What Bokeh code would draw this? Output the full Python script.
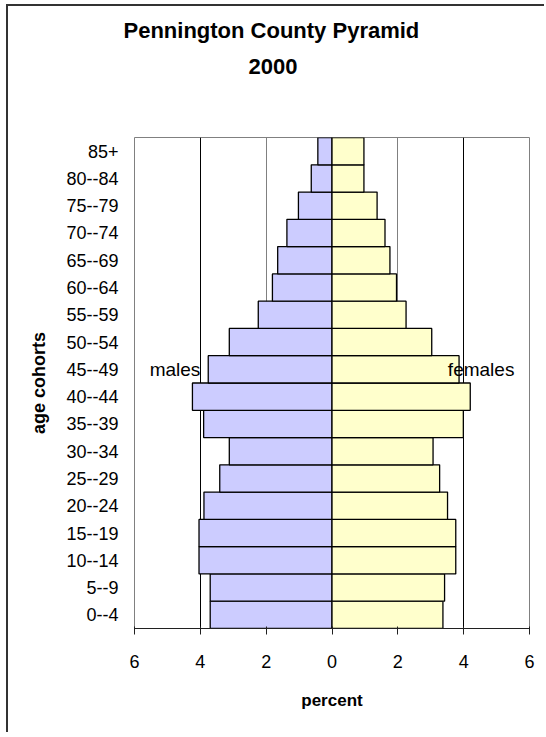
from bokeh.plotting import figure
from bokeh.models import ColumnDataSource, FixedTicker, Grid, Title, FactorRange, Range1d
from bokeh.core.properties import value
from bokeh.embed import file_html
from bokeh.resources import INLINE

ages = ["0--4", "5--9", "10--14", "15--19", "20--24", "25--29", "30--34", "35--39",
        "40--44", "45--49", "50--54", "55--59", "60--64", "65--69", "70--74",
        "75--79", "80--84", "85+"]
males = [3.70, 3.70, 4.04, 4.04, 3.89, 3.41, 3.12, 3.90, 4.24, 3.76, 3.12, 2.24,
         1.81, 1.65, 1.37, 1.02, 0.63, 0.43]
females = [3.37, 3.42, 3.76, 3.76, 3.51, 3.27, 3.07, 3.99, 4.20, 3.86, 3.03, 2.25,
           1.96, 1.76, 1.61, 1.37, 0.97, 0.97]
x_ticks = [-6, -4, -2, 0, 2, 4, 6]
x_tick_labels = ["6", "4", "2", "0", "2", "4", "6"]
title_lines = ["Pennington County Pyramid", "2000"]

FONT = "Liberation Sans"

src = ColumnDataSource(dict(age=ages, mneg=[-v for v in males], f=females,
                            zero=[0] * len(ages)))

p = figure(y_range=FactorRange(*ages), x_range=Range1d(-6, 6),
           frame_width=395, frame_height=491,
           min_border_left=126, min_border_right=15, min_border_top=131, min_border_bottom=104,
           output_backend="svg", toolbar_location=None)
p.styles = {"border-left": "2px solid #333333", "border-top": "2px solid #333333",
            "margin-left": "6px", "margin-top": "4px"}
p.title.visible = False
p.background_fill_color = "white"
p.border_fill_color = "white"
p.outline_line_color = "#808080"
p.outline_line_width = 1

# grids
p.ygrid.visible = False
p.xgrid.ticker = FixedTicker(ticks=[-4, 4])
p.xgrid.grid_line_color = "black"
g2 = Grid(dimension=0, ticker=FixedTicker(ticks=[-2, 2]), grid_line_color="#808080")
p.add_layout(g2)

p.hbar(y="age", left="mneg", right="zero", height=1.0, source=src,
       fill_color="#CCCCFF", line_color="black", line_width=1.3)
p.hbar(y="age", left="zero", right="f", height=1.0, source=src,
       fill_color="#FFFFCC", line_color="black", line_width=1.3)

# x axis
xa = p.xaxis[0]
xa.ticker = FixedTicker(ticks=x_ticks)
xa.major_label_overrides = {t: l for t, l in zip(x_ticks, x_tick_labels)}
xa.minor_tick_line_color = None
xa.major_tick_in = 2
xa.major_tick_out = 6
xa.axis_line_color = "#202020"
xa.major_tick_line_color = "#202020"
xa.major_label_text_font = FONT
xa.major_label_text_font_size = "18px"
xa.major_label_text_color = "black"
xa.major_label_standoff = 20
xa.axis_label = "percent"
xa.axis_label_text_font = FONT
xa.axis_label_text_font_style = "bold"
xa.axis_label_text_font_size = "17px"
xa.axis_label_text_color = "black"
xa.axis_label_standoff = 20

# y axis
ya = p.yaxis[0]
ya.axis_line_color = None
ya.major_tick_line_color = None
ya.minor_tick_line_color = None
ya.major_tick_in = 0
ya.major_tick_out = 0
ya.major_label_text_font = FONT
ya.major_label_text_font_size = "18px"
ya.major_label_text_color = "black"
ya.major_label_standoff = 16
ya.axis_label = "age cohorts"
ya.axis_label_text_font = FONT
ya.axis_label_text_font_style = "bold"
ya.axis_label_text_font_size = "18px"
ya.axis_label_text_color = "black"
ya.axis_label_standoff = 14

# males / females labels
p.text(x=[-4.0], y=["45--49"], text=["males"], text_align="right", text_baseline="middle",
       text_font=value(FONT), text_font_size="19px", text_color="black")
p.text(x=[3.52], y=["45--49"], text=["females"], text_align="left", text_baseline="middle",
       text_font=value(FONT), text_font_size="19px", text_color="black")

# title lines (a blank spacer panel sits between the frame and the title lines)
spacer = Title(text=" ", align="left", standoff=30,
               text_font=FONT, text_font_size="22px", text_color="white")
t_year = Title(text=title_lines[1], align="left", offset=114, standoff=14,
               text_font=FONT, text_font_style="bold", text_font_size="22px",
               text_color="black")
t_main = Title(text=title_lines[0], align="left", offset=-11, standoff=14,
               text_font=FONT, text_font_style="bold", text_font_size="22px",
               text_color="black")
p.add_layout(spacer, "above")
p.add_layout(t_year, "above")
p.add_layout(t_main, "above")

open("out.html", "w").write(file_html(p, INLINE))
